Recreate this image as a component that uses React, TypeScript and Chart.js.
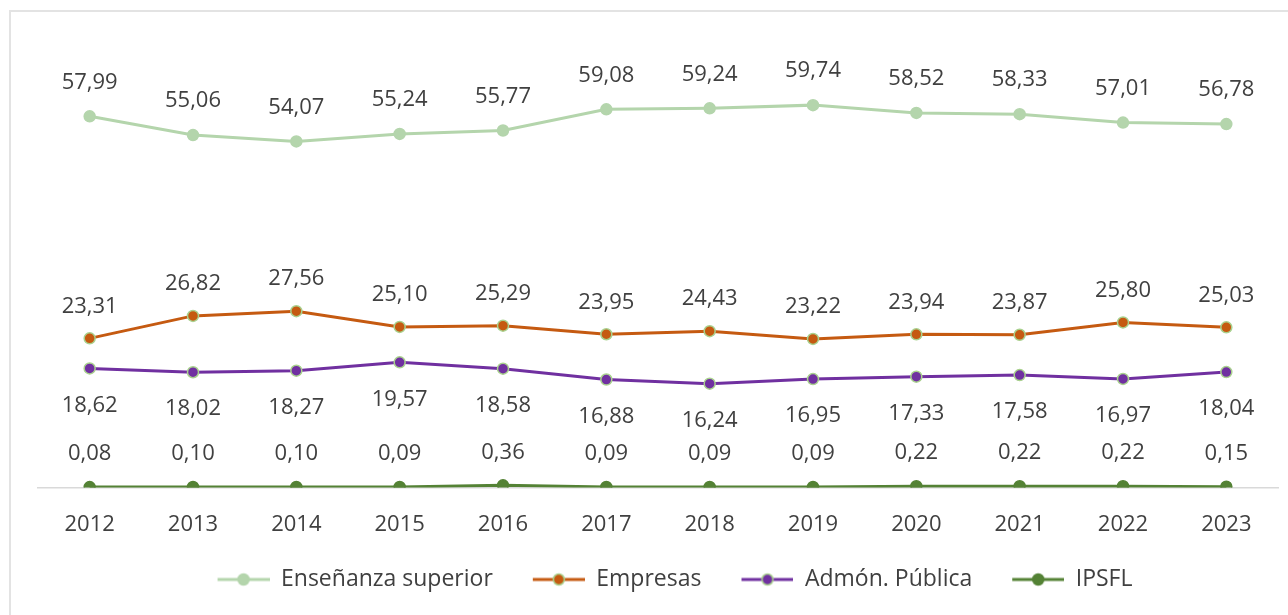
import React, { useEffect, useRef } from "react";
import { Chart, registerables } from "chart.js";

Chart.register(...registerables);

const years = ["2012", "2013", "2014", "2015", "2016", "2017", "2018", "2019", "2020", "2021", "2022", "2023"];
const ensenanza = [57.99, 55.06, 54.07, 55.24, 55.77, 59.08, 59.24, 59.74, 58.52, 58.33, 57.01, 56.78];
const empresas = [23.31, 26.82, 27.56, 25.1, 25.29, 23.95, 24.43, 23.22, 23.94, 23.87, 25.8, 25.03];
const admon = [18.62, 18.02, 18.27, 19.57, 18.58, 16.88, 16.24, 16.95, 17.33, 17.58, 16.97, 18.04];
const ipsfl = [0.08, 0.1, 0.1, 0.09, 0.36, 0.09, 0.09, 0.09, 0.22, 0.22, 0.22, 0.15];

const FONT = "'Open Sans', 'Noto Sans', sans-serif";
const TEXT = "#404040";
const ICON_W = 86;
const ICON_GAP = 34;

function makeLegendIcon(line: string, fill: string, border: string) {
  const c = document.createElement("canvas");
  c.width = ICON_W;
  c.height = 16;
  const ctx = c.getContext("2d")!;
  ctx.strokeStyle = line;
  ctx.lineWidth = 3;
  ctx.beginPath();
  ctx.moveTo(ICON_GAP, 8);
  ctx.lineTo(ICON_W, 8);
  ctx.stroke();
  ctx.beginPath();
  ctx.arc(ICON_GAP + (ICON_W - ICON_GAP) / 2, 8, 5.5, 0, Math.PI * 2);
  ctx.fillStyle = fill;
  ctx.fill();
  ctx.lineWidth = 1.5;
  ctx.strokeStyle = border;
  ctx.stroke();
  return c;
}

export default function App() {
  const ref = useRef<HTMLCanvasElement | null>(null);
  useEffect(() => {
    if (!ref.current) return;
    const series = [
      { label: "Enseñanza superior", data: ensenanza, line: "#b4d5ac", fill: "#b4d5ac", border: "#b4d5ac", off: -34 },
      { label: "Empresas", data: empresas, line: "#c55a11", fill: "#c55a11", border: "#a9d18e", off: -32 },
      { label: "Admón. Pública", data: admon, line: "#7030a0", fill: "#7030a0", border: "#a9d18e", off: 37 },
      { label: "IPSFL", data: ipsfl, line: "#548235", fill: "#548235", border: "#548235", off: -33 },
    ];
    const icons = series.map((s) => makeLegendIcon(s.line, s.fill, s.border));

    const labelPlugin = {
      id: "dataLabels",
      afterDatasetsDraw(chart: any) {
        const ctx = chart.ctx;
        ctx.save();
        ctx.font = `22px ${FONT}`;
        ctx.fillStyle = TEXT;
        ctx.textAlign = "center";
        ctx.textBaseline = "middle";
        chart.data.datasets.forEach((ds: any, di: number) => {
          const meta = chart.getDatasetMeta(di);
          meta.data.forEach((pt: any, i: number) => {
            const v = ds.data[i] as number;
            ctx.fillText(v.toFixed(2).replace(".", ","), pt.x, pt.y + series[di].off);
          });
        });
        ctx.restore();
      },
    };

    const chart = new Chart(ref.current, {
      type: "line",
      data: {
        labels: years,
        datasets: series.map((s) => ({
          label: s.label,
          data: s.data,
          borderColor: s.line,
          backgroundColor: s.fill,
          pointBackgroundColor: s.fill,
          pointBorderColor: s.border,
          pointBorderWidth: 1.5,
          pointRadius: 5.5,
          borderWidth: 3,
          tension: 0,
        })),
      },
      options: {
        animation: false,
        responsive: false,
        maintainAspectRatio: false,
        layout: { padding: { left: 38, right: 10, top: 42, bottom: 14 } },
        scales: {
          y: { display: false, min: 0, max: 69.6 },
          x: {
            offset: true,
            grid: { display: false, drawTicks: false },
            border: { display: true, color: "#d9d9d9", width: 1.5 },
            ticks: { color: TEXT, font: { family: FONT, size: 22 }, padding: 24 },
          },
        },
        plugins: {
          tooltip: { enabled: false },
          legend: {
            position: "bottom",
            labels: {
              color: TEXT,
              font: { family: FONT, size: 23 },
              usePointStyle: true,
              pointStyleWidth: ICON_W,
              padding: 6,
              generateLabels: (chart: any) =>
                chart.data.datasets.map((ds: any, i: number) => ({
                  text: ds.label,
                  pointStyle: icons[i],
                  fillStyle: ds.borderColor,
                  strokeStyle: ds.borderColor,
                  lineWidth: 0,
                  hidden: false,
                  datasetIndex: i,
                  fontColor: TEXT,
                })),
            },
          },
        },
      },
      plugins: [labelPlugin],
    });
    return () => chart.destroy();
  }, []);

  return (
    <div style={{ position: "absolute", left: 0, top: 0, width: 1288, height: 615, overflow: "hidden", background: "#fff" }}>
      <div style={{ position: "absolute", left: 9, top: 10, width: 1300, height: 640, border: "2px solid #e3e3e3", boxSizing: "border-box" }} />
      <canvas ref={ref} width={1288} height={615} style={{ position: "absolute", left: 0, top: 0 }} />
    </div>
  );
}
